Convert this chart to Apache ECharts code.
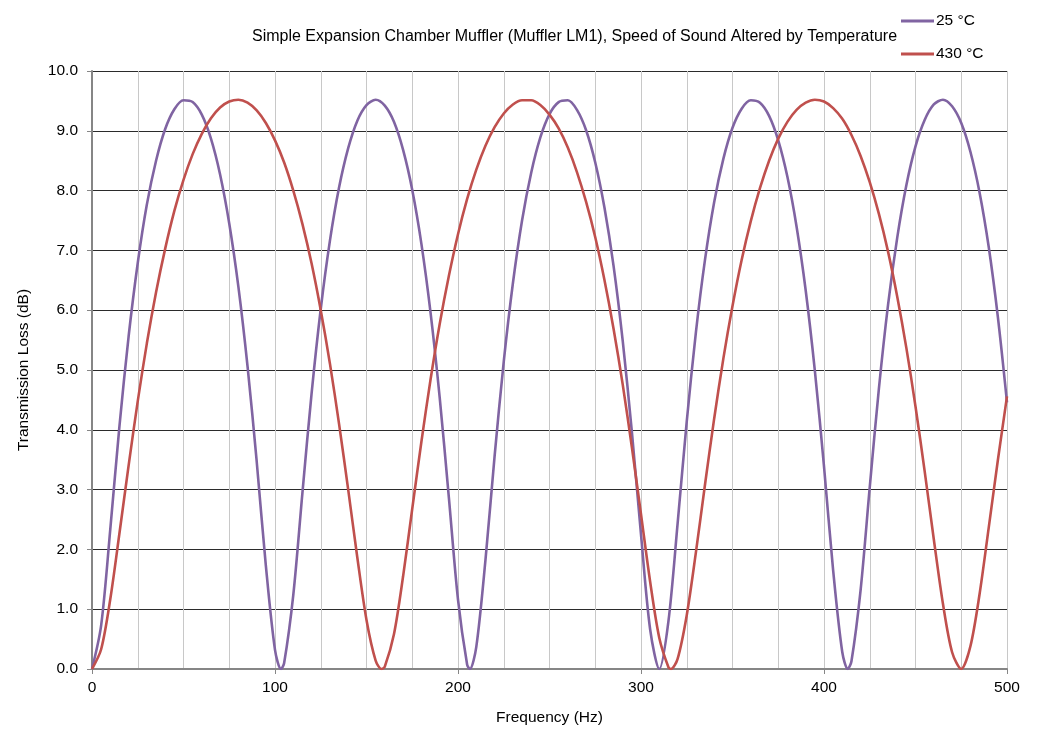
<!DOCTYPE html>
<html>
<head>
<meta charset="utf-8">
<script src="https://cdn.jsdelivr.net/npm/echarts@6/dist/echarts.min.js"></script>
<style>
html,body{margin:0;padding:0;background:#fff;}
#chart{width:1052px;height:756px;}
</style>
</head>
<body>
<div id="chart"></div>
<script>
const titleText = 'Simple Expansion Chamber Muffler (Muffler LM1), Speed of Sound Altered by Temperature';
const seriesNames = ['25 °C', '430 °C'];
const xTicks = [0, 100, 200, 300, 400, 500];
const yTicks = [0, 1, 2, 3, 4, 5, 6, 7, 8, 9, 10];

const freq25 = [0,5,10,15,20,25,30,35,40,45,50,55,60,65,70,75,80,85,90,95,100,103.25,105,110,115,120,125,130,135,140,145,150,155,160,165,170,175,180,185,190,195,200,205,206.5,210,215,220,225,230,235,240,245,250,255,260,265,270,275,280,285,290,295,300,305,310,315,320,325,330,335,340,345,350,355,360,365,370,375,380,385,390,395,400,405,410,413,415,420,425,430,435,440,445,450,455,460,465,470,475,480,485,490,495,500];
const tl25 = [0,0.73,2.34,4.06,5.56,6.79,7.77,8.50,9.03,9.36,9.51,9.48,9.27,8.87,8.27,7.45,6.39,5.06,3.47,1.73,0.32,0,0.10,1.24,2.95,4.61,6.02,7.16,8.05,8.71,9.17,9.43,9.52,9.42,9.15,8.68,8.01,7.11,5.96,4.54,2.87,1.16,0.07,0,0.37,1.82,3.56,5.14,6.45,7.50,8.30,8.89,9.28,9.48,9.51,9.35,9.01,8.47,7.72,6.74,5.49,3.97,2.25,0.66,0.00,0.80,2.43,4.14,5.63,6.85,7.81,8.53,9.05,9.37,9.51,9.47,9.25,8.84,8.23,7.40,6.33,4.99,3.39,1.65,0.28,0,0.13,1.32,3.04,4.69,6.09,7.21,8.09,8.74,9.18,9.44,9.52,9.41,9.13,8.65,7.97,7.06,5.89,4.46];

const freq430 = [0,5,10,15,20,25,30,35,40,45,50,55,60,65,70,75,80,85,90,95,100,105,110,115,120,125,130,135,140,145,150,155,158.2,160,165,170,175,180,185,190,195,200,205,210,215,220,225,230,235,240,245,250,255,260,265,270,275,280,285,290,295,300,305,310,315,316.4,320,325,330,335,340,345,350,355,360,365,370,375,380,385,390,395,400,405,410,415,420,425,430,435,440,445,450,455,460,465,470,475,480,485,490,495,500];
const tl430 = [0,0.33,1.17,2.27,3.40,4.48,5.45,6.30,7.03,7.66,8.18,8.61,8.95,9.21,9.39,9.49,9.52,9.47,9.34,9.13,8.84,8.47,8.00,7.44,6.78,6.00,5.11,4.10,3.00,1.86,0.82,0.14,0,0.04,0.58,1.55,2.68,3.80,4.84,5.77,6.57,7.27,7.86,8.35,8.75,9.06,9.29,9.44,9.51,9.51,9.43,9.27,9.04,8.72,8.31,7.81,7.22,6.51,5.69,4.76,3.71,2.59,1.46,0.52,0.03,0,0.17,0.90,1.95,3.09,4.19,5.19,6.07,6.84,7.49,8.04,8.50,8.87,9.15,9.35,9.47,9.52,9.49,9.38,9.20,8.93,8.58,8.14,7.61,6.98,6.23,5.37,4.39,3.31,2.17,1.09,0.28,0.00,0.38,1.25,2.36,3.49,4.56];

const colors = ['#8064A2', '#C0504D'];
const FONT = '"Liberation Sans", Arial, sans-serif';
const FS = 15.5;

function pairs(xs, ys) { return xs.map((x, i) => [x, ys[i]]); }

const chart = echarts.init(document.getElementById('chart'), null, {renderer: 'canvas'});
chart.setOption({
  animation: false,
  backgroundColor: '#fff',
  color: colors,
  title: {
    text: titleText,
    left: 252,
    top: 29,
    padding: 0,
    textStyle: {fontFamily: FONT, fontSize: 16, fontWeight: 'normal', color: '#000'}
  },
  legend: {
    orient: 'vertical',
    left: 901,
    top: 13,
    padding: 0,
    itemWidth: 33,
    itemHeight: 3,
    itemGap: 17,
    icon: 'rect',
    textStyle: {fontFamily: FONT, fontSize: FS, color: '#000', padding: [0, 0, 0, -3]},
    data: seriesNames
  },
  grid: {left: 92, right: 45, top: 71, bottom: 87, containLabel: false},
  xAxis: {
    type: 'value',
    min: xTicks[0],
    max: xTicks[xTicks.length - 1],
    interval: 100,
    name: 'Frequency (Hz)',
    nameLocation: 'middle',
    nameGap: 41,
    nameTextStyle: {fontFamily: FONT, fontSize: FS, color: '#000'},
    axisLine: {show: true, lineStyle: {color: '#868686', width: 2}},
    axisTick: {show: true, length: 5, lineStyle: {color: '#868686', width: 1}},
    axisLabel: {fontFamily: FONT, fontSize: FS, color: '#000', margin: 11},
    splitLine: {show: true, lineStyle: {color: '#c8c8c8', width: 1}},
    minorTick: {show: false, splitNumber: 4},
    minorSplitLine: {show: true, lineStyle: {color: '#c8c8c8', width: 1}}
  },
  yAxis: {
    type: 'value',
    min: yTicks[0],
    max: yTicks[yTicks.length - 1],
    interval: 1,
    name: 'Transmission Loss (dB)',
    nameLocation: 'middle',
    nameGap: 60,
    nameTextStyle: {fontFamily: FONT, fontSize: FS, color: '#000'},
    axisLine: {show: true, lineStyle: {color: '#868686', width: 2}},
    axisTick: {show: true, length: 5, lineStyle: {color: '#868686', width: 1}},
    axisLabel: {fontFamily: FONT, fontSize: FS, color: '#000', margin: 14, formatter: v => v.toFixed(1)},
    splitLine: {show: true, lineStyle: {color: '#2b2b2b', width: 1}}
  },
  series: [
    {
      name: seriesNames[0], type: 'line', data: pairs(freq25, tl25),
      showSymbol: false, smooth: 0.3, lineStyle: {width: 2.6, color: colors[0]}, z: 3
    },
    {
      name: seriesNames[1], type: 'line', data: pairs(freq430, tl430),
      showSymbol: false, smooth: 0.3, lineStyle: {width: 2.6, color: colors[1]}, z: 4
    }
  ]
});
</script>
</body>
</html>
